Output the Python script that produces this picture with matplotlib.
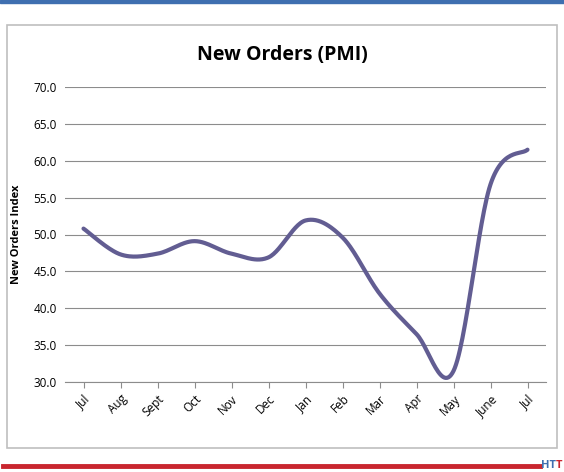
import matplotlib
matplotlib.use("Agg")
import matplotlib.pyplot as plt
from matplotlib.patches import Rectangle
from matplotlib.lines import Line2D
import numpy as np

months = ["Jul", "Aug", "Sept", "Oct", "Nov", "Dec", "Jan", "Feb", "Mar", "Apr", "May", "June", "Jul"]
pmi = [50.8, 47.3, 47.4, 49.1, 47.4, 46.9, 51.9, 49.6, 42.0, 36.5, 31.5, 56.8, 61.5]
yticks = [30.0, 35.0, 40.0, 45.0, 50.0, 55.0, 60.0, 65.0, 70.0]
LINE = "#625d92"

plt.rcParams["font.family"] = ["Open Sans", "DejaVu Sans"]


def smooth(x, y, n=30):
    # Catmull-Rom style smoothing like the spreadsheet's "smoothed line"
    x = np.asarray(x, float); y = np.asarray(y, float)
    px = np.concatenate([[x[0]], x, [x[-1]]]); py = np.concatenate([[y[0]], y, [y[-1]]])
    xs, ys = [], []
    t = np.linspace(0, 1, n)
    for i in range(1, len(px) - 2):
        p0, p1, p2, p3 = [np.array([px[j], py[j]]) for j in (i - 1, i, i + 1, i + 2)]
        c1 = p1 + (p2 - p0) / 6; c2 = p2 - (p3 - p1) / 6
        b = ((1 - t) ** 3)[:, None] * p1 + (3 * (1 - t) ** 2 * t)[:, None] * c1 \
            + (3 * (1 - t) * t ** 2)[:, None] * c2 + (t ** 3)[:, None] * p2
        xs.extend(b[:, 0]); ys.extend(b[:, 1])
    return xs, ys


fig = plt.figure(figsize=(5.64, 4.72), dpi=100)
fig.patches.append(Rectangle((0, 1 - 3 / 472), 1, 3 / 472, transform=fig.transFigure,
                             color="#3f6fb0", zorder=-2))
fig.patches.append(Rectangle((7 / 564, 1 - 448 / 472), 550 / 564, 423 / 472, transform=fig.transFigure,
                             facecolor="white", edgecolor="#bfbfbf", lw=1.2, zorder=-2))
fig.lines.append(Line2D([3 / 564, 540 / 564], [1 - 466 / 472] * 2, transform=fig.transFigure,
                        color="#c9262f", lw=3.5))
fig.text(541 / 564, 1 - 466 / 472, "HT", color="#3f6fb0", fontsize=8, fontweight="bold", va="center")
fig.text(556 / 564, 1 - 466 / 472, "T", color="#c9262f", fontsize=8, fontweight="bold", va="center")

ax = fig.add_axes([65 / 564, 1 - 382 / 472, 481 / 564, 295 / 472])
ax.patch.set_alpha(0)
x = np.arange(len(months))
sx, sy = smooth(x, pmi)
ax.plot(sx, sy, color=LINE, lw=3, solid_capstyle="round")
ax.set_xlim(-0.5, len(months) - 0.5)
ax.set_ylim(30, 70)
ax.set_yticks(yticks)
ax.set_yticklabels([f"{v:.1f}" for v in yticks], fontsize=8.5)
ax.set_xticks(x)
ax.set_xticklabels(months, rotation=45, ha="right", rotation_mode="anchor", fontsize=8.5)
ax.grid(axis="y", color="#8c8c8c", lw=0.8)
ax.set_axisbelow(True)
for s in ["top", "right", "left"]:
    ax.spines[s].set_visible(False)
ax.spines["bottom"].set_color("#8c8c8c")
ax.tick_params(axis="y", length=0, pad=6)
ax.tick_params(axis="x", length=4, color="#8c8c8c")
ax.set_ylabel("New Orders Index", fontsize=8, fontweight="bold", labelpad=8)
fig.text(0.5, 1 - 55 / 472, "New Orders (PMI)", ha="center", va="center", fontsize=14, fontweight="bold")

fig.savefig("out.png", dpi=100)
